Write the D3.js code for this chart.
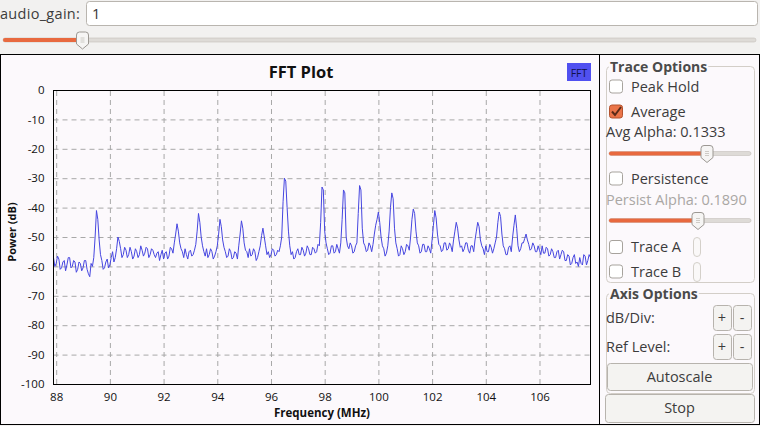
<!DOCTYPE html>
<html>
<head>
<meta charset="utf-8">
<script src="https://cdn.jsdelivr.net/npm/d3@7"></script>
<style>
  body { margin: 0; background: #f2f1f0; }
  svg { display: block; font-family: "Open Sans", sans-serif; }
</style>
</head>
<body>
<script>
// FFT bins: 87.9 MHz .. 107.9 MHz, 0.05 MHz apart
const binStart = 87.9, binStep = 0.05;
const power = [
  -57, -60, -59, -56.5, -57.5, -61, -60.5, -58.5, -58, -61.5,
  -59.5, -57, -57, -60.5, -60, -58, -58.5, -62, -61, -58.5,
  -59, -61.5, -60.5, -58, -58, -61, -62.5, -63.5, -59, -60,
  -57, -50, -41, -44, -51, -56, -58, -61, -60.5, -58.5,
  -57.5, -60.5, -59.5, -57, -55, -58.5, -57, -54, -50, -51.5,
  -54, -57, -56, -53.5, -54.5, -57, -56, -53.5, -55, -57.5,
  -56.5, -54, -55, -57, -56, -53, -54.5, -56.5, -55.5, -53.5,
  -54, -57, -56, -54, -54.5, -56, -57, -55.5, -55, -58,
  -56, -54.5, -57.5, -55.5, -55, -57.5, -56.5, -53.5, -54, -55.5,
  -52, -49, -45.5, -48, -52, -54, -55, -57, -54, -56,
  -57.5, -55, -54.5, -56.5, -56, -54.5, -52.5, -48, -42, -45,
  -50, -53, -55, -56.5, -54, -57, -56, -54, -55, -57.5,
  -56.5, -55, -53, -49, -44, -46.5, -51, -53.5, -55, -57,
  -56.5, -54, -55, -57.5, -57, -55, -55.5, -57.5, -53, -49,
  -44.5, -47, -52, -54.5, -55, -57, -54, -56.5, -56, -54,
  -55, -58, -57, -55, -53, -49.5, -47, -50, -53, -56,
  -55, -57, -56, -54, -54.5, -56.5, -56, -54.5, -55, -53,
  -50, -38, -30, -31, -40, -48, -53, -56, -55, -57.5,
  -57, -55, -54, -56, -56, -53.5, -54.5, -56.5, -55.5, -53,
  -54, -56, -56, -53.5, -54, -55.5, -55, -52.5, -53, -45,
  -33, -34, -48, -52, -54, -56, -55.5, -53, -53, -55.5,
  -55, -52.5, -54, -55.5, -52, -44, -34, -35, -50, -53,
  -54, -52, -53, -55.5, -55, -53, -52, -42, -32.5, -34,
  -47, -52, -53, -55, -54.5, -52, -53, -55, -52.5, -49,
  -46, -44, -41.5, -45, -50, -53, -54, -56.5, -55.5, -53,
  -48, -40, -35, -37, -47, -52, -54, -56.5, -56, -53,
  -54, -56, -55, -52.5, -53, -54.5, -50, -44, -40.5, -42,
  -48, -52, -53, -55.5, -55, -52.5, -52.5, -55, -55, -53,
  -54, -55.5, -51, -46, -41, -43.5, -49, -52.5, -53, -55,
  -54.5, -52, -52, -54.5, -54, -52, -53, -55, -51, -48,
  -45, -47, -51, -53.5, -53, -55, -54, -52, -52, -54.5,
  -55.5, -53, -53, -55, -51, -48, -45, -46.5, -51, -53,
  -54, -56, -53, -55, -55, -52.5, -53.5, -55.5, -54, -52,
  -50, -45, -41.5, -43, -49, -53, -54, -56, -56, -53.5,
  -53, -55, -50, -46, -42.5, -47, -53, -55, -54, -52,
  -52, -50.5, -49, -51, -52.5, -54.5, -54, -52, -53, -55,
  -55, -53, -54.5, -56, -53, -55.5, -55.5, -53.5, -54, -56.5,
  -56, -54, -55, -57, -57, -55, -54.5, -57.5, -56, -54.5,
  -55, -58, -58, -56, -56.5, -59.5, -59, -57, -56, -59,
  -58.5, -60, -57, -59, -59.5, -56, -56.5, -59.5, -58, -56,
  -57
];
const xTicks = [88, 90, 92, 94, 96, 98, 100, 102, 104, 106];
const yTicks = [0, -10, -20, -30, -40, -50, -60, -70, -80, -90, -100];

const W = 760, H = 426;
const plotL = 53.5, plotR = 590.5, plotT = 90, plotB = 384;
const bg = "#fcf9fc", orange = "#e8693f", textCol = "#3c3c3c";
const fs = 14.5;

const svg = d3.select("body").append("svg")
  .attr("width", W).attr("height", H);

// ---- top row: audio_gain entry + slider ----
svg.append("text").attr("x", 0).attr("y", 19)
  .attr("font-size", fs).attr("fill", textCol).attr("letter-spacing", 0.3).text("audio_gain:");
svg.append("rect").attr("x", 86.5).attr("y", 1.5).attr("width", 671).attr("height", 24)
  .attr("rx", 3).attr("fill", "#fff").attr("stroke", "#b9b5af");
svg.append("text").attr("x", 92).attr("y", 19)
  .attr("font-size", fs).attr("fill", "#333").text("1");

function slider(x0, x1, yc, hx) {
  svg.append("rect").attr("x", x0).attr("y", yc - 2).attr("width", x1 - x0).attr("height", 4)
    .attr("rx", 2).attr("fill", "#dedbd7").attr("stroke", "#c4c0ba").attr("stroke-width", 0.6);
  svg.append("rect").attr("x", x0).attr("y", yc - 2).attr("width", hx - x0).attr("height", 4)
    .attr("rx", 2).attr("fill", orange);
  const t = yc - 8;
  svg.append("path")
    .attr("d", `M${hx - 6},${t + 3} q0,-3 3,-3 h6 q3,0 3,3 v9 l-6,5 l-6,-5 z`)
    .attr("fill", "#f6f5f4").attr("stroke", "#9c9893");
  [-2, 0, 2].forEach(d => svg.append("line")
    .attr("x1", hx - 2).attr("x2", hx + 2).attr("y1", yc + d).attr("y2", yc + d)
    .attr("stroke", "#c4c0ba").attr("stroke-width", 0.8));
}
slider(3, 756, 40, 82.5);

// ---- plot widget ----
svg.append("rect").attr("x", 0.5).attr("y", 54.5).attr("width", 599).attr("height", 370)
  .attr("fill", bg).attr("stroke", "#000");
svg.append("rect").attr("x", 599.5).attr("y", 54.5).attr("width", 160).attr("height", 370)
  .attr("fill", bg).attr("stroke", "#000");

const x = d3.scaleLinear().domain([87.9, 107.9]).range([plotL, plotR]);
const y = d3.scaleLinear().domain([-100, 0]).range([plotB, plotT]);

const plot = svg.append("g");

// grid
plot.append("g").attr("transform", `translate(0,${plotB})`)
  .call(d3.axisBottom(x).tickValues(xTicks).tickSize(-(plotB - plotT)).tickFormat(""))
  .call(g => g.select(".domain").remove())
  .call(g => g.selectAll("line").attr("stroke", "#a8a8a8").attr("stroke-dasharray", "5,4"));
plot.append("g").attr("transform", `translate(${plotL},0)`)
  .call(d3.axisLeft(y).tickValues(yTicks.slice(1, -1)).tickSize(-(plotR - plotL)).tickFormat(""))
  .call(g => g.select(".domain").remove())
  .call(g => g.selectAll("line").attr("stroke", "#a8a8a8").attr("stroke-dasharray", "5,4"));

// trace
const bins = power.map((p, i) => ({ f: binStart + i * binStep, p }));
plot.append("path").datum(bins)
  .attr("fill", "none").attr("stroke", "#4646e0").attr("stroke-width", 1)
  .attr("d", d3.line().x(d => x(d.f)).y(d => y(d.p)));

// frame
plot.append("rect").attr("x", plotL).attr("y", plotT + 0.5)
  .attr("width", plotR - plotL).attr("height", plotB - plotT)
  .attr("fill", "none").attr("stroke", "#000");

// tick labels
plot.append("g").attr("transform", `translate(0,${plotB + 6})`)
  .call(d3.axisBottom(x).tickValues(xTicks).tickSize(0).tickFormat(d => String(d)))
  .call(g => g.select(".domain").remove())
  .call(g => g.selectAll("text").attr("font-size", 11.5).attr("fill", "#111")
    .attr("font-family", "Open Sans, sans-serif"));
plot.append("g").attr("transform", `translate(${plotL - 6},0)`)
  .call(d3.axisLeft(y).tickValues(yTicks).tickSize(0).tickFormat(d => String(d)))
  .call(g => g.select(".domain").remove())
  .call(g => g.selectAll("text").attr("font-size", 11.5).attr("fill", "#111")
    .attr("font-family", "Open Sans, sans-serif"));

svg.append("text").attr("x", 301).attr("y", 77.5).attr("text-anchor", "middle")
  .attr("font-size", 16.5).attr("font-weight", "bold").attr("fill", "#111").text("FFT Plot");
svg.append("text").attr("x", 322).attr("y", 417).attr("text-anchor", "middle")
  .attr("font-size", 11.5).attr("font-weight", "bold").attr("fill", "#111").text("Frequency (MHz)");
svg.append("text").attr("transform", "translate(16,232) rotate(-90)").attr("text-anchor", "middle")
  .attr("font-size", 11).attr("font-weight", "bold").attr("fill", "#111").text("Power (dB)");

// legend
svg.append("rect").attr("x", 567).attr("y", 63).attr("width", 24).attr("height", 18)
  .attr("fill", "#5050f0");
svg.append("text").attr("x", 579).attr("y", 76.5).attr("text-anchor", "middle")
  .attr("font-size", 10.5).attr("fill", "#10104a").text("FFT");

// ---- right panel ----
function groupBox(y0, y1, title) {
  svg.append("rect").attr("x", 606.5).attr("y", y0 + 0.5).attr("width", 148).attr("height", y1 - y0)
    .attr("rx", 4).attr("fill", "none").attr("stroke", "#d3cec8");
  const t = svg.append("text").attr("x", 610).attr("y", y0 + 5.5)
    .attr("font-size", 14).attr("font-weight", "bold").attr("fill", "#4a4a4a").text(title);
  const bb = t.node().getBBox();
  svg.insert("rect", () => t.node()).attr("x", bb.x - 1).attr("y", bb.y).attr("width", bb.width + 2)
    .attr("height", bb.height).attr("fill", bg);
}
groupBox(66, 282, "Trace Options");
groupBox(293, 393, "Axis Options");

function checkbox(yc, label, checked) {
  svg.append("rect").attr("x", 609.5).attr("y", yc - 6.5).attr("width", 13).attr("height", 13)
    .attr("rx", 2.5).attr("fill", checked ? "#ea7449" : "#fff")
    .attr("stroke", checked ? "#b4532f" : "#a7a39d");
  if (checked) {
    svg.append("path").attr("d", `M612,${yc} l3,3.5 l6,-8`)
      .attr("fill", "none").attr("stroke", "#5a2a18").attr("stroke-width", 2);
  }
  svg.append("text").attr("x", 631).attr("y", yc + 5)
    .attr("font-size", fs).attr("fill", textCol).text(label);
}
checkbox(86.5, "Peak Hold", false);
checkbox(111.5, "Average", true);
svg.append("text").attr("x", 606).attr("y", 136.5).attr("font-size", fs)
  .attr("fill", textCol).text("Avg Alpha: 0.1333");
slider(609, 751, 153.5, 707);
checkbox(178.5, "Persistence", false);
svg.append("text").attr("x", 606).attr("y", 204.5).attr("font-size", fs)
  .attr("fill", "#aaa7a4").text("Persist Alpha: 0.1890");
slider(609, 751, 220.5, 698);
checkbox(247, "Trace A", false);
checkbox(271.5, "Trace B", false);
[[237, 256], [262, 281]].forEach(([a, b]) => {
  svg.append("rect").attr("x", 693.5).attr("y", a + 0.5).attr("width", 7).attr("height", b - a)
    .attr("rx", 3.5).attr("fill", "#faf8f8").attr("stroke", "#d4d0ca");
});

function button(x0, y0, x1, y1, label) {
  svg.append("rect").attr("x", x0 + 0.5).attr("y", y0 + 0.5).attr("width", x1 - x0).attr("height", y1 - y0)
    .attr("rx", 3).attr("fill", "#f4f3f1").attr("stroke", "#b7b3ad");
  svg.append("text").attr("x", (x0 + x1) / 2).attr("y", (y0 + y1) / 2 + fs * 0.36)
    .attr("text-anchor", "middle").attr("font-size", fs).attr("fill", textCol).text(label);
}
svg.append("text").attr("x", 606).attr("y", 323).attr("font-size", fs).attr("fill", textCol).text("dB/Div:");
svg.append("text").attr("x", 606).attr("y", 351.5).attr("font-size", fs).attr("fill", textCol).text("Ref Level:");
button(713, 305, 731, 330, "+");
button(733, 305, 751, 330, "-");
button(713, 334, 731, 359, "+");
button(733, 334, 751, 359, "-");
button(607, 363, 752, 390, "Autoscale");
button(605, 394, 754, 422, "Stop");
</script>
</body>
</html>
